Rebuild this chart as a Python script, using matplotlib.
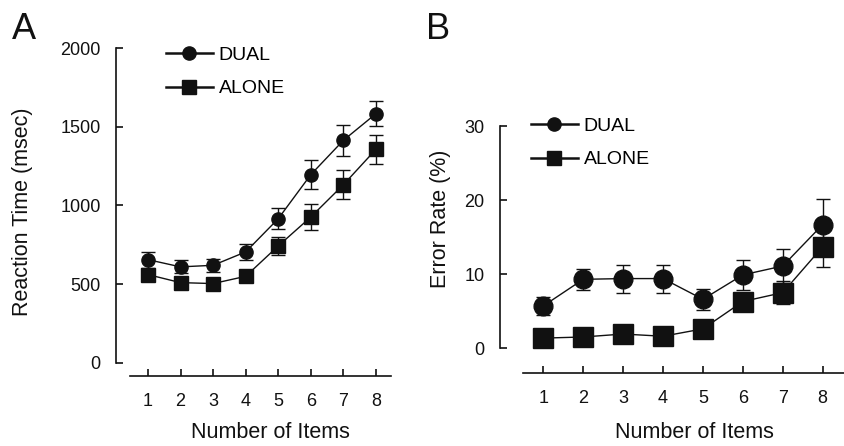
import matplotlib
matplotlib.use("Agg")
import matplotlib.pyplot as plt
from matplotlib.lines import Line2D

plt.rcParams["font.family"] = ["Liberation Sans", "DejaVu Sans"]

ITEMS = [1, 2, 3, 4, 5, 6, 7, 8]

# Panel A: reaction time (msec)
RT_DUAL = [656, 610, 620, 705, 916, 1196, 1414, 1583]
RT_DUAL_ERR = [50, 42, 42, 53, 68, 92, 100, 80]
RT_ALONE = [561, 510, 504, 550, 743, 927, 1132, 1357]
RT_ALONE_ERR = [25, 20, 20, 25, 59, 82, 93, 93]

# Panel B: error rate (%)
ER_DUAL = [5.7, 9.3, 9.4, 9.4, 6.6, 9.9, 11.1, 16.7]
ER_DUAL_ERR = [1.2, 1.4, 1.9, 1.9, 1.4, 2.0, 2.3, 3.5]
ER_ALONE = [1.35, 1.5, 1.9, 1.6, 2.6, 6.3, 7.5, 13.7]
ER_ALONE_ERR = [0.4, 0.4, 0.4, 0.4, 0.5, 0.8, 1.6, 2.7]

INK = "#111111"

fig = plt.figure(figsize=(8.45, 4.46), dpi=100)


def style_axes(ax, xb, yb, yticks):
    for s in ("top", "right"):
        ax.spines[s].set_visible(False)
    for s in ("left", "bottom"):
        ax.spines[s].set_linewidth(1.2)
        ax.spines[s].set_color(INK)
    ax.spines["bottom"].set_bounds(*xb)
    ax.spines["left"].set_bounds(*yb)
    ax.set_xticks(ITEMS)
    ax.set_yticks(yticks)
    ax.tick_params(direction="in", length=5, width=1.2, color=INK,
                   labelsize=13, labelcolor=INK)
    ax.tick_params(axis="x", pad=12)
    ax.tick_params(axis="y", pad=11)


def draw(ax, dual, dual_err, alone, alone_err, ms_c, ms_s):
    ax.errorbar(ITEMS, alone, yerr=alone_err, fmt="-s", color=INK, ms=ms_s,
                lw=1.0, elinewidth=1.0, capsize=4.7, capthick=1.0, zorder=3)
    ax.errorbar(ITEMS, dual, yerr=dual_err, fmt="-o", color=INK, ms=ms_c,
                lw=1.0, elinewidth=1.0, capsize=4.7, capthick=1.0, zorder=4)


def legend(ax, x, y):
    h = [Line2D([], [], color=INK, lw=1.8, marker="o", ms=9.5),
         Line2D([], [], color=INK, lw=1.8, marker="s", ms=10.5)]
    ax.legend(h, ["DUAL", "ALONE"], loc="upper left", bbox_to_anchor=(x, y),
              frameon=False, fontsize=14, handlelength=2.4, handletextpad=0.3,
              labelspacing=0.83, borderpad=0, borderaxespad=0)


# ---- A ----
axA = fig.add_axes([116 / 845, 1 - 376 / 446, (391 - 116) / 845, (376 - 48) / 446])
draw(axA, RT_DUAL, RT_DUAL_ERR, RT_ALONE, RT_ALONE_ERR, 9.5, 10.5)
axA.set_xlim(0.02, 8.46)
axA.set_ylim(-83, 2000)
style_axes(axA, (0.45, 8.46), (0, 2000), [0, 500, 1000, 1500, 2000])
axA.set_ylabel("Reaction Time (msec)", fontsize=15.5, color=INK)
axA.yaxis.set_label_coords(-0.30, 0.5)
axA.set_xlabel("Number of Items", fontsize=15.5, color=INK)
axA.xaxis.set_label_coords((270 - 116) / 275, -0.14)
legend(axA, (166 - 116) / 275, (376 - 46) / 328)
fig.text(12 / 845, 1 - 39 / 446, "A", fontsize=26, color=INK)

# ---- B ----
axB = fig.add_axes([500 / 845, 1 - 373 / 446, (845 - 500) / 845, (373 - 110) / 446])
draw(axB, ER_DUAL, ER_DUAL_ERR, ER_ALONE, ER_ALONE_ERR, 13.5, 14.5)
axB.set_xlim(-0.085, 8.56)
axB.set_ylim(-3.37, 32.2)
style_axes(axB, (0.5, 8.56), (0, 30), [0, 10, 20, 30])
axB.set_ylabel("Error Rate (%)", fontsize=15.5, color=INK)
axB.yaxis.set_label_coords(-0.142, 0.586)
axB.set_xlabel("Number of Items", fontsize=15.5, color=INK)
axB.xaxis.set_label_coords((694 - 500) / 345, -0.186)
legend(axB, (531 - 500) / 345, (373 - 117) / 263)
fig.text(426 / 845, 1 - 39 / 446, "B", fontsize=26, color=INK)

fig.savefig("out.png", dpi=100)
